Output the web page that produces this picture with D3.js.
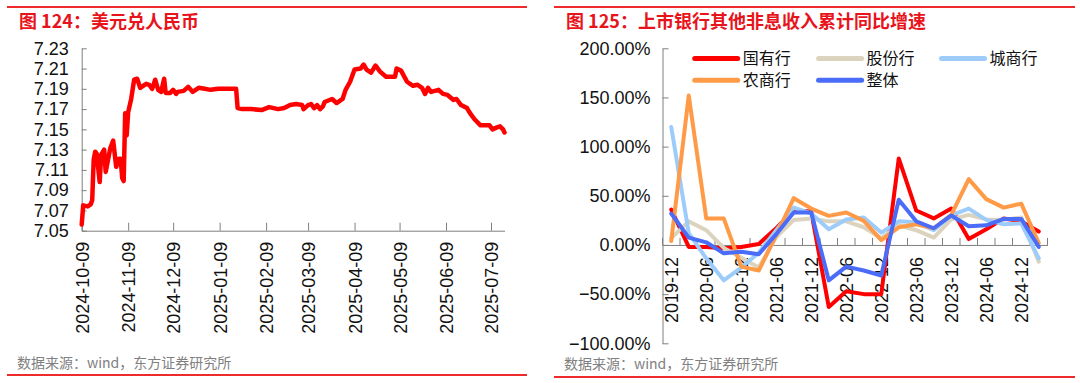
<!DOCTYPE html>
<html><head><meta charset="utf-8">
<script src="https://cdn.jsdelivr.net/npm/d3@7"></script>
<style>body{margin:0;background:#fff} svg{display:block}</style>
</head><body>
<svg id="c" width="1080" height="383"></svg>
<script>
// ---------- Left panel data: USD/CNY ----------
const fxDates = ["2024-10-09","2024-10-10","2024-10-13","2024-10-15","2024-10-16","2024-10-17","2024-10-18","2024-10-19","2024-10-21","2024-10-22","2024-10-24","2024-10-25","2024-10-28","2024-10-30","2024-11-01","2024-11-03","2024-11-04","2024-11-05","2024-11-06","2024-11-07","2024-11-08","2024-11-09","2024-11-11","2024-11-13","2024-11-15","2024-11-17","2024-11-19","2024-11-21","2024-11-23","2024-11-25","2024-11-27","2024-11-29","2024-12-01","2024-12-03","2024-12-04","2024-12-07","2024-12-09","2024-12-11","2024-12-12","2024-12-16","2024-12-19","2024-12-22","2024-12-26","2024-12-30","2025-01-03","2025-01-08","2025-01-12","2025-01-17","2025-01-20","2025-01-21","2025-01-24","2025-01-30","2025-02-06","2025-02-11","2025-02-17","2025-02-21","2025-02-25","2025-03-01","2025-03-05","2025-03-06","2025-03-09","2025-03-11","2025-03-13","2025-03-15","2025-03-17","2025-03-19","2025-03-20","2025-03-25","2025-03-28","2025-04-01","2025-04-03","2025-04-06","2025-04-09","2025-04-13","2025-04-15","2025-04-17","2025-04-20","2025-04-23","2025-04-26","2025-04-30","2025-05-06","2025-05-07","2025-05-10","2025-05-14","2025-05-18","2025-05-21","2025-05-24","2025-05-26","2025-05-28","2025-05-30","2025-06-04","2025-06-07","2025-06-10","2025-06-14","2025-06-16","2025-06-19","2025-06-23","2025-06-25","2025-06-28","2025-07-02","2025-07-05","2025-07-08","2025-07-10","2025-07-13","2025-07-15","2025-07-17","2025-07-18"];
const fxValues = [7.056,7.075,7.074,7.076,7.080,7.120,7.128,7.126,7.098,7.125,7.130,7.108,7.131,7.139,7.113,7.121,7.121,7.102,7.099,7.166,7.144,7.167,7.180,7.199,7.200,7.191,7.193,7.195,7.194,7.190,7.199,7.189,7.187,7.200,7.186,7.186,7.189,7.185,7.187,7.188,7.192,7.187,7.191,7.190,7.189,7.190,7.190,7.190,7.190,7.171,7.170,7.170,7.169,7.172,7.170,7.171,7.174,7.175,7.174,7.170,7.174,7.175,7.171,7.174,7.170,7.173,7.177,7.180,7.176,7.180,7.189,7.197,7.209,7.210,7.214,7.209,7.206,7.213,7.207,7.202,7.202,7.210,7.208,7.197,7.193,7.194,7.191,7.185,7.191,7.187,7.189,7.185,7.184,7.179,7.180,7.174,7.171,7.166,7.160,7.154,7.154,7.154,7.150,7.152,7.153,7.150,7.147];
const fxTickDates = ["2024-10-09","2024-11-09","2024-12-09","2025-01-09","2025-02-09","2025-03-09","2025-04-09","2025-05-09","2025-06-09","2025-07-09"];
const fxYTicks = [7.05,7.07,7.09,7.11,7.13,7.15,7.17,7.19,7.21,7.23];

// ---------- Right panel data ----------
const quarters = ["2019-12","2020-03","2020-06","2020-09","2020-12","2021-03","2021-06","2021-09","2021-12","2022-03","2022-06","2022-09","2022-12","2023-03","2023-06","2023-09","2023-12","2024-03","2024-06","2024-09","2024-12","2025-03"];
const seriesNames = ["国有行","股份行","城商行","农商行","整体"];
const stateOwned = [36,-2,-2,-3.4,-2,1,17,35,34,-63,-47,-50,-50,88,35,27,37,6,16,27,24,13.6];
const jointStock = [7,24,15,-3,-13,-23,8,25.5,27,24,24,18,7,20,15,7.5,26,30.6,26,25.5,28,-17];
const cityComm = [120,12,-13.6,-36,-23,-8,15,38,32,16,26,28,12.6,24,23,15,30,37,25.5,21,22,-13.6];
const ruralComm = [4,152,27,27,-22,-26,10,47.6,37,29.6,33,24.5,5,18,21,17,30.6,67,46.6,38,42,2];
const overall = [32,7.5,2.7,-8.5,-7,-9.5,11,33,33,-36,-22,-26,-31,46,24,17,30,19,20,26.5,26.5,-2];
const pctTicks = [-100,-50,0,50,100,150,200];

const seriesColors = ["#FF0000","#DCD3BF","#9DCCFB","#FF9A47","#4A6CF7"];
const seriesData = [stateOwned, jointStock, cityComm, ruralComm, overall];

const svg = d3.select("#c");
const LAT = "'Liberation Sans', Arial, sans-serif";
const CJK = "'Noto Sans CJK SC', sans-serif";
const RED = "#EE2B2B";

// ---------- frames ----------
function frame(x0, x1, title, srcY, lineY) {
  svg.append("line").attr("x1", x0).attr("x2", x1).attr("y1", 7).attr("y2", 7)
    .attr("stroke", RED).attr("stroke-width", 2);
  svg.append("text").attr("x", x0 + 12).attr("y", 28).text(title)
    .attr("font-family", CJK).attr("font-weight", 700).attr("font-size", 18).attr("fill", "#E8141B");
  svg.append("text").attr("x", x0 + 10).attr("y", srcY).text("数据来源：wind，东方证券研究所")
    .attr("font-family", CJK).attr("font-size", 14).attr("fill", "#808080");
  svg.append("line").attr("x1", x0).attr("x2", x1).attr("y1", lineY).attr("y2", lineY)
    .attr("stroke", RED).attr("stroke-width", 2);
}
frame(7, 527, "图 124：美元兑人民币", 368, 375);
frame(554, 1075, "图 125：上市银行其他非息收入累计同比增速", 369, 377);

// ---------- Left chart ----------
const parse = d3.utcParse("%Y-%m-%d");
const fxData = fxDates.map((d, i) => ({ date: parse(d), v: fxValues[i] }));
const xL = d3.scaleUtc().domain(d3.extent(fxData, d => d.date)).range([81.7, 504.5]);
const yL = d3.scaleLinear().domain([7.05, 7.23]).range([230.7, 48.3]);

const gL = svg.append("g");
const axL = gL.append("g").attr("transform", `translate(${xL.range()[0]},0)`)
  .call(d3.axisLeft(yL).tickValues(fxYTicks).tickFormat(d3.format(".2f")).tickSizeInner(-5).tickSizeOuter(0).tickPadding(13));
const axB = gL.append("g").attr("transform", `translate(0,${yL.range()[0]})`)
  .call(d3.axisBottom(xL).tickValues(fxTickDates.map(parse)).tickFormat(d3.utcFormat("%Y-%m-%d")).tickSizeInner(-8).tickSizeOuter(0));
axB.selectAll("text").attr("transform", "rotate(-90)").attr("x", -11).attr("y", 0).attr("dy", "0.36em").attr("text-anchor", "end");
[axL, axB].forEach(a => {
  a.selectAll("path,line").attr("stroke", "#7f7f7f");
  a.selectAll("text").attr("font-family", LAT).attr("font-size", 18).attr("fill", "#111");
});
gL.append("path").datum(fxData)
  .attr("d", d3.line().x(d => xL(d.date)).y(d => yL(d.v)))
  .attr("fill", "none").attr("stroke", "#FF0000").attr("stroke-width", 4.5)
  .attr("stroke-linejoin", "round").attr("stroke-linecap", "round");

// ---------- Right chart ----------
const xR = d3.scaleBand().domain(quarters).range([662.5, 1047.5]).padding(0);
const yR = d3.scaleLinear().domain([-100, 200]).range([343.3, 48.3]);
const gR = svg.append("g");
const axRL = gR.append("g").attr("transform", `translate(${xR.range()[0]},0)`)
  .call(d3.axisLeft(yR).tickValues(pctTicks).tickFormat(d => d3.format(".2f")(d) + "%").tickSizeInner(-6).tickSizeOuter(0).tickPadding(12));
const axRB = gR.append("g").attr("transform", `translate(0,${yR(0)})`)
  .call(d3.axisBottom(xR).tickValues(quarters.filter((d, i) => i % 2 === 0)).tickSize(0));
axRB.selectAll("text").attr("transform", "rotate(-90)").attr("x", -12).attr("y", 0).attr("dy", "0.36em").attr("text-anchor", "end");
// boundary ticks between categories
const bounds = d3.range(quarters.length + 1).map(i => xR.range()[0] + i * xR.step());
axRB.selectAll(".btick").data(bounds).enter().append("line").attr("class", "btick")
  .attr("x1", d => d).attr("x2", d => d).attr("y1", 0).attr("y2", -7);
[axRL, axRB].forEach(a => {
  a.selectAll("path,line").attr("stroke", "#7f7f7f");
  a.selectAll("text").attr("font-family", LAT).attr("font-size", 18).attr("fill", "#111");
});
const lineR = d3.line().x((d, i) => xR(quarters[i]) + xR.bandwidth() / 2).y(d => yR(d));
seriesData.forEach((s, k) => {
  gR.append("path").datum(s).attr("d", lineR)
    .attr("fill", "none").attr("stroke", seriesColors[k]).attr("stroke-width", 4)
    .attr("stroke-linejoin", "round").attr("stroke-linecap", "round");
});
// legend
const legPos = [[694.7, 58.5], [818.6, 58.5], [941.5, 58.5], [694.7, 80.3], [818.6, 80.3]];
seriesNames.forEach((n, k) => {
  const [lx, ly] = legPos[k];
  gR.append("line").attr("x1", lx).attr("x2", lx + 43).attr("y1", ly).attr("y2", ly)
    .attr("stroke", seriesColors[k]).attr("stroke-width", 5).attr("stroke-linecap", "round");
  gR.append("text").attr("x", lx + 48).attr("y", ly).attr("dy", "0.35em").text(n)
    .attr("font-family", CJK).attr("font-size", 16).attr("fill", "#111");
});
</script>
</body></html>
